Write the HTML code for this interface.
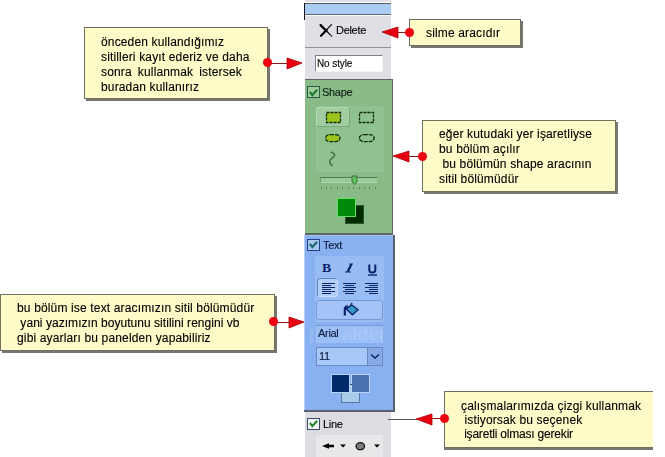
<!DOCTYPE html>
<html><head><meta charset="utf-8">
<style>
*{margin:0;padding:0;box-sizing:border-box}
html,body{width:665px;height:457px;overflow:hidden;background:#fff;position:relative;font-family:"Liberation Sans",sans-serif;-webkit-font-smoothing:antialiased}
.call,.ui{will-change:transform;-webkit-text-stroke:0.12px currentColor}
.a{position:absolute}
.call{position:absolute;background:#fffbc9;border:1px solid #6f6f62;box-shadow:2px 2px 0 #77776f;font-size:12px;line-height:15px;color:#111;letter-spacing:0.15px;white-space:pre;color:#000}
.dot{position:absolute;width:9px;height:9px;border-radius:50%;background:#ee0010;z-index:2}
.ln{position:absolute;height:1px;background:#8a1818}
.ui{font-family:"Liberation Sans",sans-serif;font-size:11px;color:#000;white-space:nowrap;letter-spacing:-0.3px}
.cb{position:absolute;width:13px;height:12px;border:1px solid #2e4f6e;background:#e8f0e8}
</style></head><body>

<!-- ===== panel ===== -->
<div class="a" style="left:305px;top:0;width:86px;height:2px;background:#e2e0e4"></div>
<div class="a" style="left:304px;top:3px;width:87px;height:1px;background:#555c66"></div>
<div class="a" style="left:305px;top:4px;width:86px;height:10px;background:#a8ccf2"></div>
<div class="a" style="left:304px;top:14px;width:87px;height:1px;background:#5c6670"></div>
<div class="a" style="left:304px;top:3px;width:1px;height:17px;background:#111"></div>

<!-- delete / no style gray section -->
<div class="a" style="left:305px;top:16px;width:86px;height:63px;background:#dfdfe5"></div>
<div class="a" style="left:305px;top:47px;width:86px;height:1px;background:#909096"></div>
<!-- X icon -->
<svg class="a" style="left:316px;top:20px" width="20" height="20"><g stroke="#000" fill="none" stroke-linecap="round"><path d="M4.6 5.1 L10.2 10.7" stroke-width="2.3"/><path d="M10 10.5 L14.3 14.8" stroke-width="1.2"/><path d="M15.4 4.7 L10 10.3" stroke-width="1.2"/><path d="M10.5 10.1 L5 15.7" stroke-width="2.2"/></g><circle cx="15.5" cy="16" r="0.8" fill="#000"/></svg>
<div class="a ui" style="left:336px;top:24px;font-size:11px">Delete</div>
<!-- No style -->
<div class="a" style="left:315px;top:55px;width:68px;height:17px;background:#fff;border-top:1px solid #808080;border-left:1px solid #808080;border-right:1px solid #f4f4f4;border-bottom:1px solid #f4f4f4"></div>
<div class="a ui" style="left:317px;top:57px;font-size:10px;line-height:13px;letter-spacing:-0.1px">No style</div>

<!-- ===== Shape green section ===== -->
<div class="a" style="left:305px;top:79px;width:88px;height:156px;background:#5d665f"></div>
<div class="a" style="left:305px;top:80px;width:87px;height:153px;background:#89bb89"></div>
<div class="cb" style="left:307px;top:86px;border-color:#2c5a40;background:#9ccc9c"></div>
<svg class="a" style="left:309px;top:89px" width="10" height="8"><path d="M0.8 3 L3.4 6 L8.2 0.8" stroke="#1c7a30" stroke-width="2.2" fill="none"/></svg>
<div class="a ui" style="left:322px;top:86px;color:#0b1f10">Shape</div>
<!-- inner area -->
<!-- inner area -->
<div class="a" style="left:316px;top:106px;width:68px;height:66px;background:#90c190"></div>
<div class="a" style="left:316px;top:107px;width:34px;height:20px;background:#a2cda2;border:1px solid #b6dab6;border-right-color:#79a879;border-bottom-color:#79a879;border-radius:3px"></div>
<svg class="a" style="left:325px;top:111px" width="17" height="13"><rect x="1.5" y="1.5" width="14" height="10" fill="#9cc51c" stroke="#0d2a0d" stroke-width="1.3" stroke-dasharray="3 1"/></svg>
<svg class="a" style="left:358px;top:111px" width="17" height="13"><rect x="1.5" y="1.5" width="14" height="10" fill="none" stroke="#0d2a0d" stroke-width="1.3" stroke-dasharray="3 1"/></svg>
<svg class="a" style="left:324px;top:133px" width="17" height="10"><rect x="1.5" y="1.6" width="14.5" height="7" rx="4.5" ry="3.5" fill="#9cc51c" stroke="#0d2a0d" stroke-width="1.3" stroke-dasharray="4 1"/></svg>
<svg class="a" style="left:358px;top:133px" width="17" height="10"><rect x="1.3" y="1.6" width="14.8" height="7" rx="4.5" ry="3.5" fill="none" stroke="#0d2a0d" stroke-width="1.3" stroke-dasharray="4 1"/></svg>
<svg class="a" style="left:327px;top:150px" width="11" height="18"><path d="M4 2.3 Q7.8 3.3 7.6 5.8 L2.8 10.3 Q2.2 13.3 5.2 15.6" stroke="#3f7048" stroke-width="1.4" fill="none" stroke-linecap="round"/></svg>
<!-- slider -->
<div class="a" style="left:320px;top:177px;width:57px;height:6px;background:#98ca98;border-top:1px solid #4f7f4f;border-left:1px solid #6f9f6f;border-bottom:1px solid #a8d8a8"></div>
<svg class="a" style="left:351px;top:175px" width="7" height="11"><path d="M1 1 H6 V7 L3.5 9.5 L1 7 Z" fill="#5fbf5f" stroke="#3a6a3a" stroke-width="0.9"/></svg>
<svg class="a" style="left:320px;top:186px" width="60" height="4"><g stroke="#5a885a" stroke-width="1"><path d="M1.5 1v2M6.5 1v2M11.5 1v2M17.5 1v2M22.5 1v2M28.5 1v2M33.5 1v2M39.5 1v2M44.5 1v2M49.5 1v2M55.5 1v2"/></g></svg>
<!-- color squares -->
<div class="a" style="left:345px;top:205px;width:19px;height:19px;background:#002c00;border:1px solid #245a24"></div>
<div class="a" style="left:337px;top:198px;width:19px;height:19px;background:#008a0a;border:1px solid #66dd66"></div>

<!-- ===== Text blue section ===== -->
<div class="a" style="left:304px;top:235px;width:91px;height:177px;background:#5a606c"></div>
<div class="a" style="left:304px;top:235px;width:89px;height:175px;background:#89b1f1;border-left:1px solid #b4d0fa;border-top:1px solid #a4c4f4"></div>
<div class="cb" style="left:307px;top:239px;border-color:#1f3f86;background:#a8c8f2"></div>
<svg class="a" style="left:309px;top:241px" width="10" height="8"><path d="M0.8 3 L3.4 6 L8.2 0.8" stroke="#1b6a6e" stroke-width="2.2" fill="none"/></svg>
<div class="a ui" style="left:323px;top:239px;color:#0a1a3a">Text</div>
<div class="a" style="left:315px;top:256px;width:69px;height:66px;background:#98bcf4"></div>
<div class="a" style="left:322px;top:261px;font-family:'Liberation Serif';font-weight:bold;font-size:12px;color:#0a246a;transform:scaleX(1.15);transform-origin:0 0;line-height:14px">B</div>
<svg class="a" style="left:344px;top:263px" width="10" height="10"><path d="M5.5 0.5 H9 L5 8.5 H7 V9.5 H1 L1.3 8.5 H2.5 L6 1.5 H5.2 Z" fill="#0a246a"/></svg>
<div class="a" style="left:368px;top:262px;width:8px;height:12px"><svg width="9" height="12"><path d="M1.3 0.5 V6 Q1.3 8.5 4.3 8.5 Q7.3 8.5 7.3 6 V0.5" stroke="#0a246a" stroke-width="2" fill="none"/><path d="M0 11h9" stroke="#0a246a" stroke-width="1.4"/></svg></div>
<div class="a" style="left:317px;top:278px;width:21px;height:19px;background:#b0cef8;border:1px solid #6585c4;border-right-color:#c8dcff;border-bottom-color:#c8dcff;border-radius:3px"></div>
<svg class="a" style="left:322px;top:283px" width="14" height="12"><g stroke="#0a246a" stroke-width="1.1"><path d="M0 0.5h13M0 2.5h9M0 4.5h13M0 6.5h9M0 8.5h13M0 10.5h9"/></g></svg>
<svg class="a" style="left:343px;top:283px" width="14" height="12"><g stroke="#0a246a" stroke-width="1.1"><path d="M0 0.5h13M2 2.5h9M0 4.5h13M2 6.5h9M0 8.5h13M2 10.5h9"/></g></svg>
<svg class="a" style="left:365px;top:283px" width="14" height="12"><g stroke="#0a246a" stroke-width="1.1"><path d="M0 0.5h13M4 2.5h9M0 4.5h13M4 6.5h9M0 8.5h13M4 10.5h9"/></g></svg>
<!-- fill button -->
<div class="a" style="left:316px;top:300px;width:67px;height:20px;background:#a4c4f8;border:1px solid #7796d4;border-radius:3px"></div>
<svg class="a" style="left:342px;top:302px" width="18" height="16"><path d="M2.8 13.5 V7.6 Q2.8 4.6 5.8 4.2" stroke="#0a246a" stroke-width="2.2" fill="none"/><path d="M9.8 3 L16 7.8 L10.3 12.8 L4.2 6.8 Z" fill="#3a9ac8" stroke="#0a246a" stroke-width="1.4"/><path d="M6.8 5.8 L10.2 0.8" stroke="#0a246a" stroke-width="1.1"/></svg>
<!-- Arial field -->
<div class="a" style="left:316px;top:325px;width:67px;height:18px;background:#9cbff6;border-top:1px solid #7898d0"></div>
<div class="a ui" style="left:318px;top:327px;font-size:11px;color:#0a1a3a">Arial</div>
<!-- size field -->
<div class="a" style="left:316px;top:347px;width:67px;height:19px;background:#a8c8fa;border:1px solid #6a8ac6"></div>
<div class="a" style="left:367px;top:348px;width:15px;height:17px;background:#87aae6;border-left:1px solid #6a8ac6"></div>
<svg class="a" style="left:370px;top:353px" width="10" height="7"><path d="M1 1.5 L5 5 L9 1.5" stroke="#0a246a" stroke-width="1.6" fill="none"/></svg>
<div class="a ui" style="left:319px;top:350px;font-size:11px;color:#0a1a3a">11</div>
<!-- watermark -->
<div class="a" style="left:309px;top:323px;font-family:'Liberation Sans';font-weight:bold;font-size:19px;line-height:22px;color:rgba(255,255,255,0.12);white-space:nowrap">j</div><div class="a" style="left:342px;top:323px;font-family:'Liberation Sans';font-weight:bold;font-size:19px;line-height:22px;color:rgba(255,255,255,0.12);white-space:nowrap;letter-spacing:-0.4px">alder</div>
<!-- color squares -->
<div class="a" style="left:341px;top:384px;width:19px;height:19px;background:#a8cce8;border:1px solid #5a78a8;border-top-color:#c0d8f8"></div>
<div class="a" style="left:331px;top:374px;width:19px;height:19px;background:#002a6a;border:1px solid #b8d4ff"></div>
<div class="a" style="left:351px;top:374px;width:19px;height:19px;background:#4a70b0;border:1px solid #b8d4ff"></div>
<div class="a" style="left:350px;top:384px;width:2px;height:1px;background:#2a4a80"></div>

<!-- ===== Line gray section ===== -->
<div class="a" style="left:305px;top:412px;width:86px;height:45px;background:#dcdce2"></div>
<div class="cb" style="left:307px;top:418px;border-color:#3a4a6a;background:#f4f4f4"></div>
<svg class="a" style="left:309px;top:420px" width="10" height="8"><path d="M0.8 3 L3.4 6 L8.2 0.8" stroke="#2a8a3a" stroke-width="2.2" fill="none"/></svg>
<div class="a ui" style="left:323px;top:418px">Line</div>
<div class="a" style="left:316px;top:435px;width:67px;height:22px;background:#e8e8ea"></div>
<svg class="a" style="left:321px;top:443px" width="14" height="7"><path d="M1 3 L8 0.3 L8 5.7 Z" fill="#000"/><path d="M5 3h8" stroke="#000" stroke-width="2.6"/></svg>
<svg class="a" style="left:340px;top:444px" width="7" height="5"><path d="M0 0.5h6L3 3.6z" fill="#000"/></svg>
<svg class="a" style="left:355px;top:442px" width="11" height="9"><ellipse cx="5.3" cy="4.2" rx="4.2" ry="3.5" fill="#7c7c7c" stroke="#111" stroke-width="1.3"/></svg>
<svg class="a" style="left:374px;top:444px" width="7" height="5"><path d="M0 0.5h6L3 3.6z" fill="#000"/></svg>

<!-- ===== callouts ===== -->
<div class="call" style="left:84px;top:27px;width:184px;height:72px;padding:7px 0 0 16px">önceden kullandığımız
sitilleri kayıt ederiz ve daha
<span style="word-spacing:2.6px">sonra kullanmak istersek</span>
buradan kullanırız</div>
<div class="dot" style="left:263px;top:58px"></div>
<div class="ln" style="left:268px;top:63px;width:20px"></div>
<svg class="a" style="left:286px;top:57px" width="18" height="13"><path d="M1 1 L16 6 L1 12 Z" fill="#e60012" stroke="#a00" stroke-width="0.8"/></svg>

<div class="call" style="left:409px;top:19px;width:112px;height:27px;padding:6px 0 0 16px">silme aracıdır</div>
<div class="dot" style="left:405px;top:28px"></div>
<div class="ln" style="left:396px;top:32px;width:12px"></div>
<svg class="a" style="left:381px;top:26px" width="18" height="13"><path d="M17 1 L1 6 L17 12 Z" fill="#e60012" stroke="#a00" stroke-width="0.8"/></svg>

<div class="call" style="left:422px;top:120px;width:194px;height:72px;padding:6px 0 0 16px">eğer kutudaki yer işaretliyse
bu bölüm açılır
 bu bölümün shape aracının
sitil bölümüdür</div>
<div class="dot" style="left:418px;top:152px"></div>
<div class="ln" style="left:405px;top:156px;width:14px"></div>
<svg class="a" style="left:392px;top:150px" width="18" height="13"><path d="M17 1 L1 6 L17 12 Z" fill="#e60012" stroke="#a00" stroke-width="0.8"/></svg>

<div class="call" style="left:0px;top:294px;width:275px;height:57px;padding:6px 0 0 16px">bu bölüm ise text aracımızın sitil bölümüdür
<span style="letter-spacing:0.04px"> yani yazımızın boyutunu sitilini rengini vb</span>
gibi ayarları bu panelden yapabiliriz</div>
<div class="dot" style="left:269px;top:317px"></div>
<div class="ln" style="left:274px;top:322px;width:16px"></div>
<svg class="a" style="left:288px;top:316px" width="18" height="13"><path d="M1 1 L16 6 L1 12 Z" fill="#e60012" stroke="#a00" stroke-width="0.8"/></svg>

<div class="a" style="left:388px;top:419px;width:30px;height:1px;background:#555"></div>
<div class="call" style="left:444px;top:391px;width:209px;height:57px;padding:7px 0 0 16px;border-right:none;box-shadow:0 2px 0 #77776f;line-height:14px">çalışmalarımızda çizgi kullanmak
 istiyorsak bu seçenek
<span style="letter-spacing:-0.2px"> işaretli olması gerekir</span></div>
<div class="dot" style="left:440px;top:414px"></div>
<div class="ln" style="left:429px;top:418px;width:12px"></div>
<svg class="a" style="left:415px;top:413px" width="18" height="13"><path d="M17 1 L1 6 L17 12 Z" fill="#e60012" stroke="#a00" stroke-width="0.8"/></svg>

</body></html>
